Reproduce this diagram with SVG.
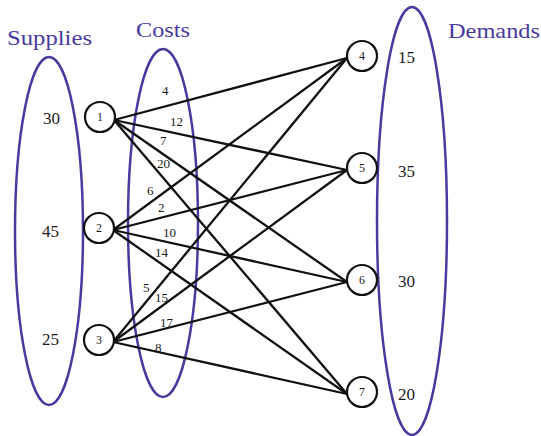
<svg xmlns="http://www.w3.org/2000/svg" width="541" height="436" viewBox="0 0 541 436">
<style>
.grp{fill:none;stroke:#4a3aa0;stroke-width:2.5}
.title{font-family:"Liberation Serif","Times New Roman",serif;font-size:22px;fill:#4a3aa0}
.num{font-family:"Liberation Serif","Times New Roman",serif;font-size:17px;fill:#1a1a1a}
.cost{font-family:"Liberation Serif","Times New Roman",serif;font-size:13px;fill:#1a1a1a}
.node circle{fill:#fff;stroke:#111;stroke-width:2.2}
.node text{font-family:"Liberation Serif","Times New Roman",serif;font-size:12px;fill:#1a1a1a;text-anchor:middle}
.edges line{stroke:#111;stroke-width:2.3}
</style>
<rect width="541" height="436" fill="#fff"/>
<g id="groups">
<ellipse class="grp" cx="49" cy="231" rx="34" ry="174"/>
<ellipse class="grp" cx="163" cy="223" rx="35" ry="174"/>
<ellipse class="grp" cx="412" cy="221" rx="35" ry="214"/>
<text class="title" x="7" y="45" textLength="85" lengthAdjust="spacingAndGlyphs">Supplies</text>
<text class="title" x="136" y="37" textLength="54" lengthAdjust="spacingAndGlyphs">Costs</text>
<text class="title" x="448" y="38" textLength="92" lengthAdjust="spacingAndGlyphs">Demands</text>
</g>
<g id="amounts" class="num">
<text x="43" y="124">30</text>
<text x="42" y="237">45</text>
<text x="42" y="345">25</text>
<text x="398" y="63">15</text>
<text x="398" y="177">35</text>
<text x="398" y="287">30</text>
<text x="398" y="400">20</text>
</g>
<g id="connectors" class="edges">
<line x1="114" y1="120" x2="347" y2="58"/>
<line x1="114" y1="120" x2="347" y2="170"/>
<line x1="114" y1="120" x2="347" y2="282"/>
<line x1="114" y1="120" x2="347" y2="394"/>
<line x1="113" y1="230" x2="347" y2="58"/>
<line x1="113" y1="230" x2="347" y2="170"/>
<line x1="113" y1="230" x2="347" y2="282"/>
<line x1="113" y1="230" x2="347" y2="394"/>
<line x1="113" y1="342" x2="347" y2="58"/>
<line x1="113" y1="342" x2="347" y2="170"/>
<line x1="113" y1="342" x2="347" y2="282"/>
<line x1="113" y1="342" x2="347" y2="394"/>
</g>
<g id="costs" class="cost">
<text x="162" y="95">4</text>
<text x="170" y="126">12</text>
<text x="160" y="145">7</text>
<text x="157" y="168">20</text>
<text x="147" y="195">6</text>
<text x="158" y="212">2</text>
<text x="163" y="237">10</text>
<text x="155" y="257">14</text>
<text x="143" y="292">5</text>
<text x="155" y="302">15</text>
<text x="160" y="327">17</text>
<text x="155" y="352">8</text>
</g>
<g id="node1" class="node"><circle cx="100" cy="117" r="15"/><text x="100" y="121">1</text></g>
<g id="node2" class="node"><circle cx="99" cy="228" r="15"/><text x="99" y="232">2</text></g>
<g id="node3" class="node"><circle cx="99" cy="340" r="15"/><text x="99" y="344">3</text></g>
<g id="node4" class="node"><circle cx="362" cy="56" r="15"/><text x="362" y="60">4</text></g>
<g id="node5" class="node"><circle cx="362" cy="168" r="15"/><text x="362" y="172">5</text></g>
<g id="node6" class="node"><circle cx="362" cy="280" r="15"/><text x="362" y="284">6</text></g>
<g id="node7" class="node"><circle cx="362" cy="392" r="15"/><text x="362" y="396">7</text></g>
</svg>
